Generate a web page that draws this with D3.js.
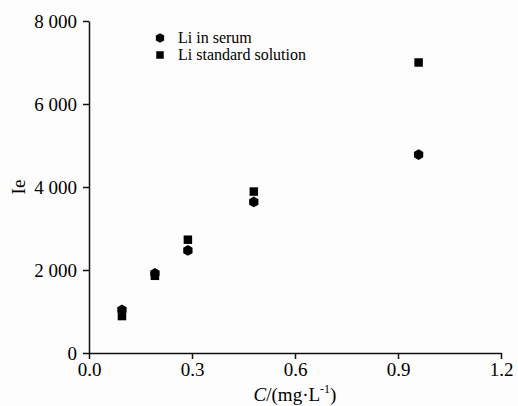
<!DOCTYPE html>
<html>
<head>
<meta charset="utf-8">
<script src="https://cdn.jsdelivr.net/npm/d3@7"></script>
<style>
  body { margin: 0; background: #fdfdfd; }
  text { font-family: "Liberation Serif", "Times New Roman", serif; fill: #000; }
</style>
</head>
<body>
<div id="chart"></div>
<script>
// concentrations (mg/L)
var conc = [0.096, 0.192, 0.288, 0.48, 0.96];
var serum = [1040, 1920, 2470, 3640, 4780];
var standard = [890, 1860, 2730, 3890, 7000];
var xTicks = [0, 0.3, 0.6, 0.9, 1.2];
var yTicks = [0, 2000, 4000, 6000, 8000];
var legendNames = ["Li in serum", "Li standard solution"];

var W = 518, H = 406;
var svg = d3.select("#chart")
    .append("svg")
    .attr("width", W)
    .attr("height", H);

var x = d3.scaleLinear().domain([0, 1.2]).range([89, 501]);
var y = d3.scaleLinear().domain([0, 8000]).range([353, 21]);

var fmt = function(d) { return d3.format(",")(d).replace(",", " "); };

// y axis
var yAxis = svg.append("g")
    .attr("transform", "translate(89,0)")
    .call(d3.axisLeft(y).tickValues(yTicks).tickSize(6).tickSizeOuter(0).tickFormat(fmt));
yAxis.selectAll("text").attr("font-size", 19).attr("dx", "-3");

// x axis
var xAxis = svg.append("g")
    .attr("transform", "translate(0,353)")
    .call(d3.axisBottom(x).tickValues(xTicks).tickSize(6).tickSizeOuter(0).tickFormat(d3.format(".1f")));
xAxis.selectAll("text").attr("font-size", 19).attr("dy", "0.75em");

svg.selectAll(".domain, .tick line").attr("stroke", "#111").attr("stroke-width", 1.5);

// axis titles
svg.append("text")
    .attr("transform", "translate(25,187) rotate(-90)")
    .attr("text-anchor", "middle")
    .attr("font-size", 19)
    .text("Ie");

var xt = svg.append("text")
    .attr("x", 295).attr("y", 401)
    .attr("text-anchor", "middle")
    .attr("font-size", 19);
xt.append("tspan").attr("font-style", "italic").text("C");
xt.append("tspan").text("/(mg·L");
xt.append("tspan").attr("font-size", 12).attr("dy", -8).text("-1");
xt.append("tspan").attr("dy", 8).text(")");

// markers
var hex = d3.symbol().type({
    draw: function(ctx, size) {
        var r = Math.sqrt(size / 2.6);
        for (var i = 0; i < 6; i++) {
            var a = Math.PI / 3 * i - Math.PI / 2;
            if (i === 0) ctx.moveTo(r * Math.cos(a), r * Math.sin(a));
            else ctx.lineTo(r * Math.cos(a), r * Math.sin(a));
        }
        ctx.closePath();
    }
}).size(75);
var sq = d3.symbol().type(d3.symbolSquare).size(72);

svg.selectAll(".std")
    .data(conc)
    .enter().append("path")
    .attr("class", "std")
    .attr("d", sq)
    .attr("fill", "#000")
    .attr("transform", function(d, i) { return "translate(" + x(d) + "," + y(standard[i]) + ")"; });

svg.selectAll(".ser")
    .data(conc)
    .enter().append("path")
    .attr("class", "ser")
    .attr("d", hex)
    .attr("fill", "#000")
    .attr("transform", function(d, i) { return "translate(" + x(d) + "," + y(serum[i]) + ")"; });

// legend
var lg = svg.append("g").attr("transform", "translate(160,38)");
lg.append("path").attr("d", hex.size(60)).attr("fill", "#000");
lg.append("path").attr("d", sq.size(56)).attr("fill", "#000").attr("transform", "translate(0,17)");
lg.selectAll("text")
    .data(legendNames)
    .enter().append("text")
    .attr("x", 18)
    .attr("y", function(d, i) { return i * 17 + 5; })
    .attr("font-size", 16)
    .text(function(d) { return d; });
</script>
</body>
</html>
